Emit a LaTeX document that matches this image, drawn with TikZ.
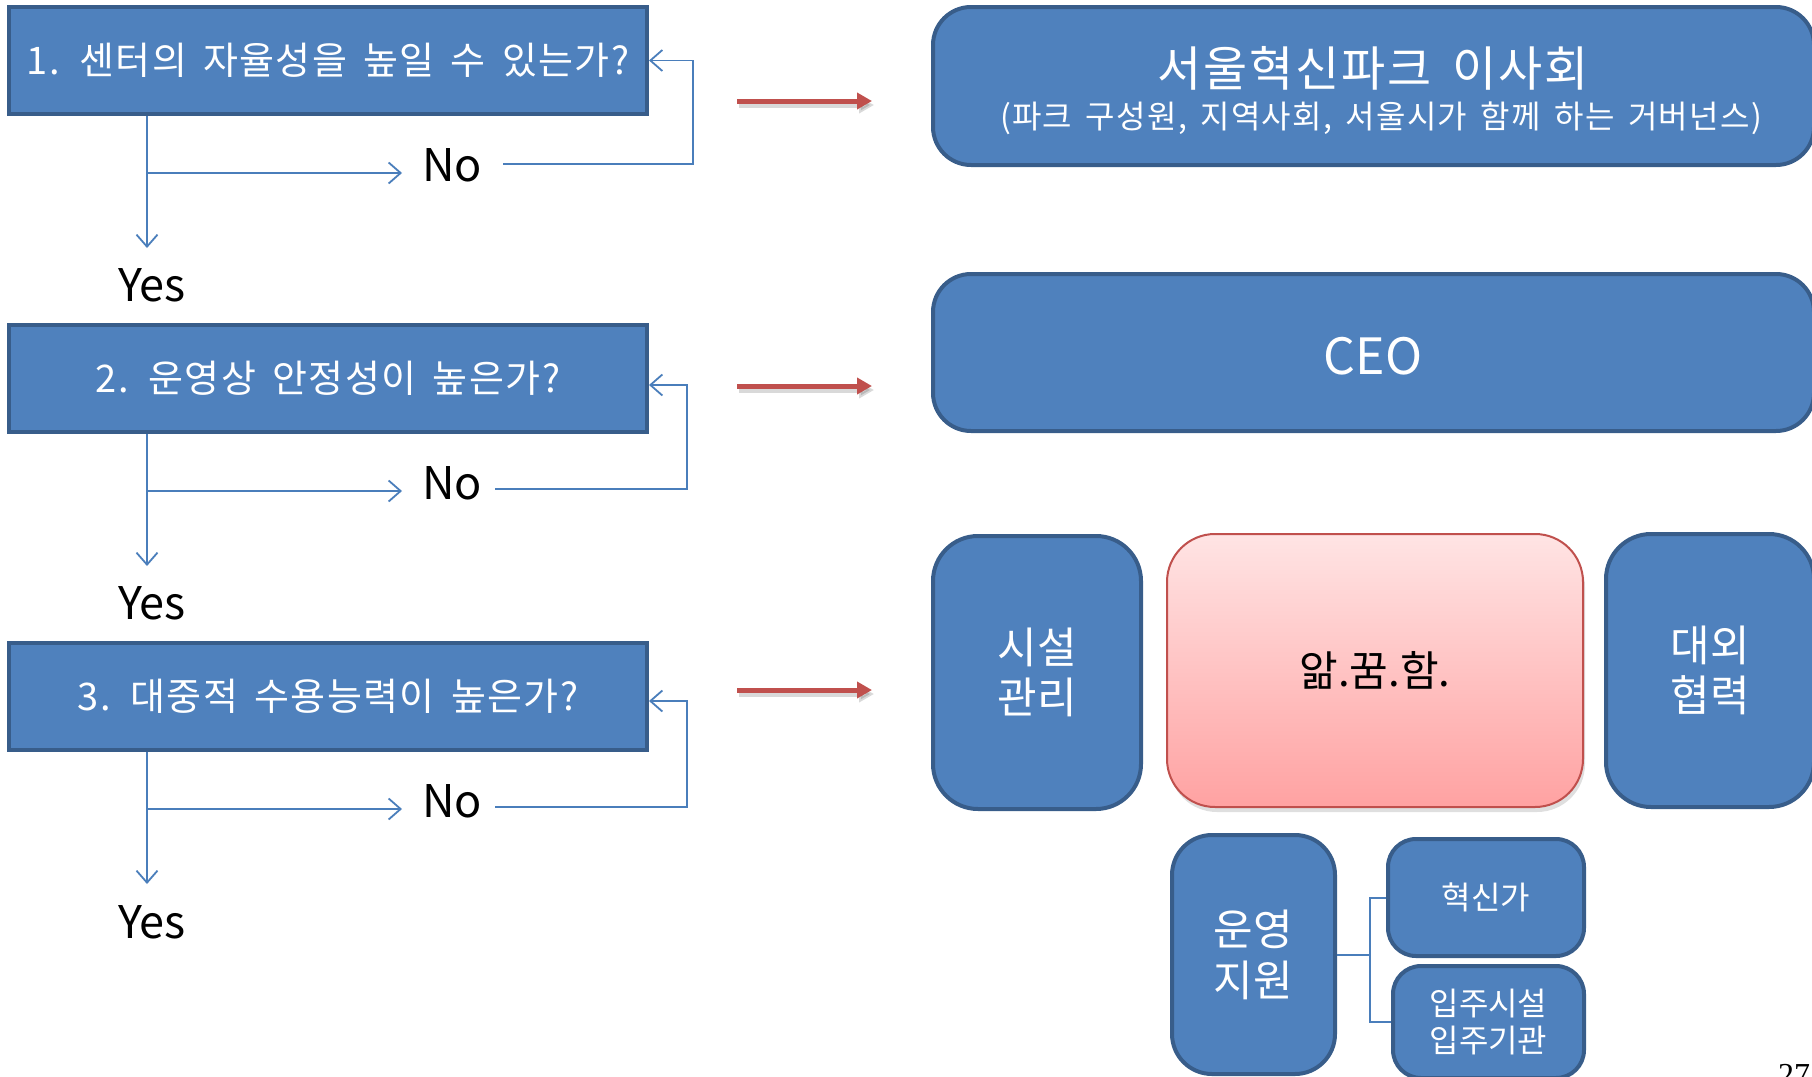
\documentclass[tikz,border=0pt]{standalone}
\usepackage{fontspec}
\setmainfont{Noto Sans CJK KR}
\newfontfamily\krwide{Noto Sans CJK KR}[LetterSpace=4,WordSpace=1.6]
\newfontfamily\numfont{Liberation Serif}
\usetikzlibrary{arrows.meta,shadows,calc}
\definecolor{boxblue}{HTML}{4F81BD}
\definecolor{boxedge}{HTML}{385D8A}
\definecolor{flowblue}{HTML}{4A7EBB}
\definecolor{arrred}{HTML}{C0504D}
\definecolor{pinktop}{HTML}{FFE4E4}
\definecolor{pinkbot}{HTML}{FFA2A2}
\definecolor{pinkedge}{HTML}{C0504D}
\begin{document}
\begin{tikzpicture}[x=1pt,y=-1pt,
  qbox/.style={draw=boxedge, line width=4pt, fill=boxblue, text=white,
    font=\krwide\fontsize{38}{44}\selectfont, minimum width=638pt, minimum height=107pt, inner sep=0pt},
  lbl/.style={text=black, font=\fontsize{45}{50}\selectfont, inner sep=0pt},
  flow/.style={draw=flowblue, line width=1.8pt, -{Straight Barb[length=12pt,width=21pt,line width=1.8pt]}},
  redarr/.style={draw=arrred, line width=5pt, -{Triangle[length=15pt,width=16pt]}},
  redshadow/.style={draw=black, opacity=0.15, line width=5pt, -{Triangle[length=15pt,width=16pt]}},
  rbox/.style={draw=boxedge, line width=4pt, fill=boxblue, text=white, inner sep=0pt, align=center},
  conn/.style={draw=flowblue, line width=2pt},
]
\useasboundingbox (0,0) rectangle (1812,1076);

% ---- left flowchart ----
\node[qbox] (q1) at (328,60.5) {1. 센터의 자율성을 높일 수 있는가?};
\node[qbox] (q2) at (328,378.5) {2. 운영상 안정성이 높은가?};
\node[qbox] (q3) at (328,696) {3. 대중적 수용능력이 높은가?};

\node[lbl] (no1) at (452,165) {No};
\node[lbl] (no2) at (452,483) {No};
\node[lbl] (no3) at (452,801) {No};
\node[lbl] (yes1) at (152,285) {Yes};
\node[lbl] (yes2) at (152,603) {Yes};
\node[lbl] (yes3) at (152,922) {Yes};

\coordinate (t1) at (147,248);
\coordinate (t2) at (147,566);
\coordinate (t3) at (147,884);
\coordinate (b1) at (402,173);
\coordinate (b2) at (402,491);
\coordinate (b3) at (402,809);
\coordinate (r1) at (503,164);
\coordinate (k1) at (693,164);
\coordinate (r2) at (495,489);
\coordinate (k2) at (687,489);
\coordinate (r3) at (495,807);
\coordinate (k3) at (687,807);

\draw[flow] (q1.south -| t1) -- (t1);
\draw[flow] (b1 -| t1) -- (b1);
\draw[flow] (r1) -- (k1) |- (q1.east);

\draw[flow] (q2.south -| t2) -- (t2);
\draw[flow] (b2 -| t2) -- (b2);
\draw[flow] (r2) -- (k2) |- ([yshift=-6.5pt]q2.east);

\draw[flow] (q3.south -| t3) -- (t3);
\draw[flow] (b3 -| t3) -- (b3);
\draw[flow] (r3) -- (k3) |- ([yshift=-5pt]q3.east);

% ---- red arrows ----
\coordinate (ra1) at (737,101); \coordinate (rb1) at (872,101);
\coordinate (ra2) at (737,386); \coordinate (rb2) at (872,386);
\coordinate (ra3) at (737,690); \coordinate (rb3) at (872,690);
\foreach \a/\b in {ra1/rb1, ra2/rb2, ra3/rb3}{
  \draw[redshadow] ([shift={(2pt,-4pt)}]\a) -- ([shift={(2pt,-4pt)}]\b);
  \draw[redarr] (\a) -- (\b);
}

% ---- right organisation ----
\node[rbox, minimum width=881pt, minimum height=158pt, rounded corners=38pt] (board) at (1373.5,86) {};
\node[text=white, font=\krwide\fontsize{48}{52}\selectfont, inner sep=0pt] (bt) at (1373,68) {서울혁신파크 이사회};
\node[text=white, font=\krwide\fontsize{32}{36}\selectfont, inner sep=0pt] (bs) at (1381,118) {(파크 구성원, 지역사회, 서울시가 함께 하는 거버넌스)};

\node[rbox, minimum width=881pt, minimum height=157pt, rounded corners=38pt] (ceo) at (1373.5,352.5) {};
\node[text=white, font=\fontsize{50}{56}\selectfont, inner sep=0pt] (ceot) at (1373,356) {CEO};

\node[rbox, minimum width=208pt, minimum height=273pt, rounded corners=45pt,
  font=\fontsize{43}{50}\selectfont] (fac) at (1037,672.5) {시설\\관리};

\node[draw=pinkedge, line width=2pt, top color=pinktop, bottom color=pinkbot,
  rounded corners=48pt, minimum width=416pt, minimum height=273pt, inner sep=0pt,
  font=\fontsize{42}{48}\selectfont, text=black,
  drop shadow={shadow xshift=2pt, shadow yshift=-5pt, opacity=0.25}] (core) at (1375,670.5) {앎.꿈.함.};

\node[rbox, minimum width=208pt, minimum height=273pt, rounded corners=45pt,
  font=\fontsize{43}{50}\selectfont] (ext) at (1710,670.5) {대외\\협력};

\node[rbox, minimum width=163pt, minimum height=239pt, rounded corners=40pt,
  font=\fontsize{43}{51}\selectfont] (ops) at (1253.5,954.5) {운영\\지원};

\node[rbox, minimum width=196pt, minimum height=117pt, rounded corners=28pt,
  font=\fontsize{32}{37}\selectfont] (inv) at (1486,897.5) {혁신가};

\node[rbox, minimum width=191pt, minimum height=112pt, rounded corners=28pt,
  font=\fontsize{32}{37}\selectfont] (res) at (1488.5,1022) {입주시설\\입주기관};

\coordinate (jn) at (1370,956);
\draw[conn] (ops.east) -- (ops.east -| jn);
\draw[conn] (inv.west) -| (jn) |- (res.west);

\node[font=\numfont\fontsize{32}{32}\selectfont, anchor=base, inner sep=0pt] (pg) at (1794,1085) {27};
\end{tikzpicture}
\end{document}
